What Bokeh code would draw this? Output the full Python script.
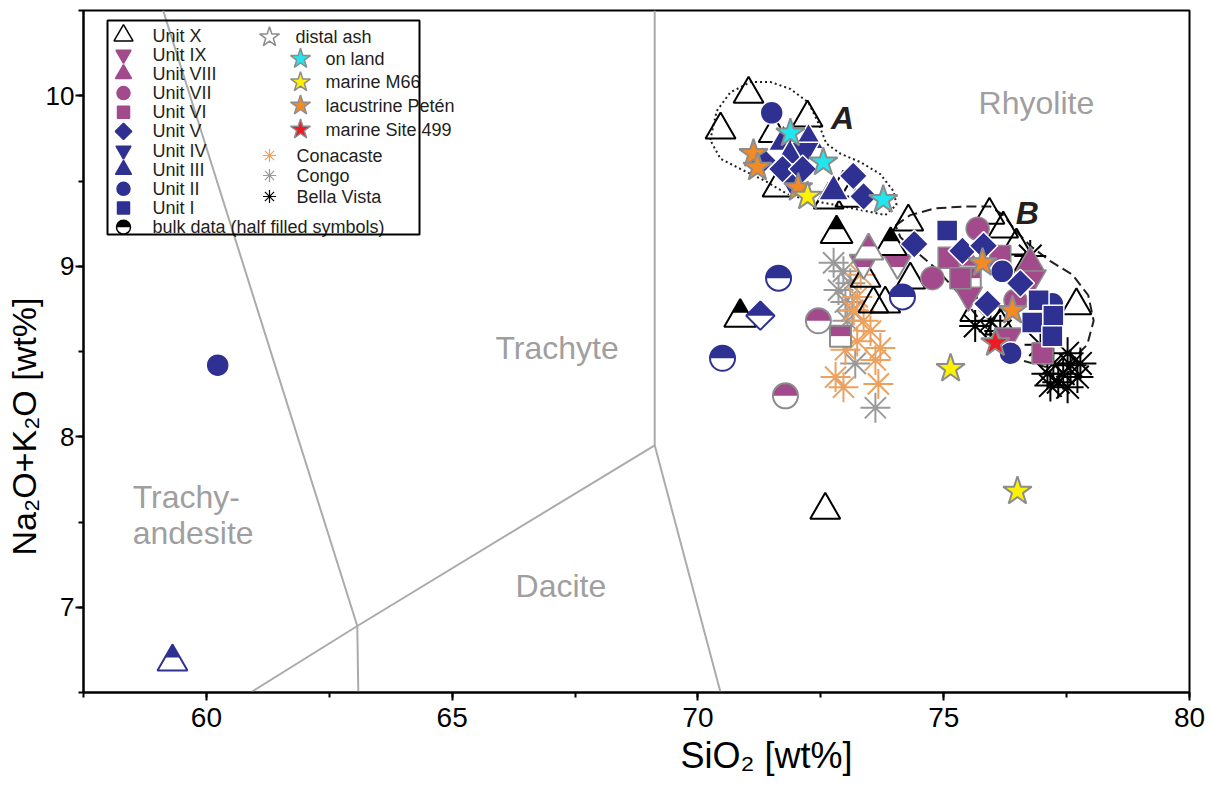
import math
from bokeh.plotting import figure
from bokeh.models import Range1d, SingleIntervalTicker, ColumnDataSource, Title
from bokeh.core.properties import value
from bokeh.embed import file_html
from bokeh.resources import INLINE

# ---------------- DATA ----------------
# TAS field boundaries (SiO2 wt%, Na2O+K2O wt%)
tas_a_x = [59.12, 63.07, 63.09]
tas_a_y = [10.50, 6.89, 6.50]
tas_b_x = [60.90, 63.07, 69.12, 70.46]
tas_b_y = [6.50, 6.89, 7.95, 6.50]
tas_c_x = [69.12, 69.12]
tas_c_y = [7.95, 10.50]

field_names = ["Rhyolite", "Trachyte", "Trachy-", "andesite", "Dacite"]
field_x = [75.71, 65.88, 58.50, 58.50, 66.29]
field_y = [9.955, 8.523, 7.644, 7.438, 7.122]

group_names = ["A", "B"]
group_x = [72.94, 76.70]
group_y = [9.867, 9.315]

contour_a_x = [70.25, 70.38, 70.66, 71.07, 71.48, 71.88, 72.25, 72.45, 72.61, 72.90, 73.31, 73.71,
               73.98, 74.04, 73.81, 73.31, 72.80, 72.19, 71.78, 71.37, 70.87, 70.46, 70.25]
contour_a_y = [9.74, 9.91, 10.02, 10.08, 10.08, 10.04, 9.96, 9.84, 9.72, 9.66, 9.61, 9.54,
               9.44, 9.36, 9.30, 9.33, 9.36, 9.39, 9.43, 9.50, 9.57, 9.63, 9.74]
contour_b_x = [74.02, 74.32, 74.83, 75.44, 75.95, 76.21, 76.46, 76.76, 77.17, 77.62, 77.94, 78.05,
               77.92, 77.58, 77.07, 76.56, 76.15, 75.75, 75.34, 74.83, 74.42, 74.12, 74.02]
contour_b_y = [9.24, 9.30, 9.34, 9.35, 9.35, 9.30, 9.21, 9.12, 9.03, 8.95, 8.83, 8.68,
               8.54, 8.44, 8.41, 8.45, 8.54, 8.68, 8.83, 8.99, 9.09, 9.17, 9.24]

# glass data
unit_x_sio2 = [71.03, 70.46, 72.23, 71.54, 72.96, 72.66, 71.62, 73.10, 72.59, 74.28, 75.93,
               76.21, 76.48, 77.70, 74.32, 73.57, 73.81, 73.41, 75.64, 76.15, 76.66]
unit_x_alk = [10.01, 9.80, 9.87, 9.78, 9.46, 9.39, 9.46, 9.40, 7.57, 9.26, 9.30,
              9.22, 9.12, 8.77, 8.92, 8.78, 8.78, 8.93, 8.73, 8.65, 8.98]
unit_ix_sio2 = [76.80, 76.32, 75.50]
unit_ix_alk = [8.93, 8.59, 8.83]
unit_viii_sio2 = [76.76, 75.44]
unit_viii_alk = [9.02, 9.05]
unit_vii_sio2 = [74.77, 75.69, 76.46]
unit_vii_alk = [8.93, 9.22, 8.80]
unit_vi_sio2 = [77.01, 75.10, 75.34, 76.15]
unit_vi_alk = [8.49, 9.05, 8.93, 9.06]
unit_v_sio2 = [71.31, 71.72, 72.13, 73.16, 73.37, 74.40, 75.38, 75.81, 76.56, 75.89]
unit_v_alk = [9.62, 9.57, 9.57, 9.53, 9.41, 9.13, 9.09, 9.12, 8.90, 8.78]
unit_iv_sio2 = [72.19, 71.88]
unit_iv_alk = [9.68, 9.51]
unit_iii_sio2 = [71.74, 72.25, 71.88, 72.76]
unit_iii_alk = [9.73, 9.74, 9.65, 9.44]
unit_ii_sio2 = [60.23, 71.50, 76.19, 76.36, 77.21]
unit_ii_alk = [8.42, 9.90, 8.97, 8.49, 8.78]
unit_i_sio2 = [75.07, 76.93, 76.80, 77.23, 77.21]
unit_i_alk = [9.21, 8.80, 8.67, 8.71, 8.59]

# bulk data (half filled symbols)
bulk_x_sio2 = [70.86, 72.82, 73.92]
bulk_x_alk = [8.70, 9.19, 9.12]
bulk_ix_sio2 = [73.37, 74.06]
bulk_ix_alk = [9.02, 9.02]
bulk_viii_sio2 = [73.47]
bulk_viii_alk = [9.09]
bulk_vii_sio2 = [71.78, 72.45]
bulk_vii_alk = [8.24, 8.68]
bulk_vi_sio2 = [72.90, 75.54]
bulk_vi_alk = [8.59, 8.93]
bulk_v_sio2 = [71.27]
bulk_v_alk = [8.71]
bulk_iii_sio2 = [59.31]
bulk_iii_alk = [6.68]
bulk_ii_sio2 = [71.64, 70.50, 74.16]
bulk_ii_alk = [8.93, 8.46, 8.82]

# distal ash
onland_sio2 = [71.88, 72.55, 73.77]
onland_alk = [9.78, 9.61, 9.39]
m66_sio2 = [72.23, 75.14, 76.50]
m66_alk = [9.41, 8.40, 7.68]
peten_sio2 = [71.13, 71.21, 72.04, 75.79, 76.40]
peten_alk = [9.66, 9.58, 9.46, 9.02, 8.74]
site499_sio2 = [76.05]
site499_alk = [8.55]

# reference volcanics
conacaste_sio2 = [73.24, 73.37, 73.24, 73.71, 72.80, 73.61, 73.67, 72.96, 73.51, 73.17, 73.00, 73.31]
conacaste_alk = [8.82, 8.68, 8.56, 8.52, 8.35, 8.45, 8.31, 8.29, 8.62, 8.74, 8.51, 8.95]
congo_sio2 = [72.76, 72.96, 72.86, 73.00, 73.14, 73.04, 73.20, 73.61, 73.10]
congo_alk = [9.02, 8.97, 8.86, 8.79, 8.74, 8.68, 8.43, 8.17, 8.90]
bella_sio2 = [77.43, 77.11, 77.78, 77.52, 77.23, 77.52, 77.72, 77.33, 77.58, 77.17,
              75.95, 75.64, 76.76, 76.15, 76.97]
bella_alk = [8.37, 8.37, 8.43, 8.49, 8.43, 8.29, 8.35, 8.32, 8.42, 8.30,
             8.68, 8.65, 9.06, 8.62, 8.54]

unit_labels = ["Unit X", "Unit IX", "Unit VIII", "Unit VII", "Unit VI",
               "Unit V", "Unit IV", "Unit III", "Unit II", "Unit I"]
bulk_label = "bulk data (half filled symbols)"
ash_labels = ["on land", "marine M66", "lacustrine Petén", "marine Site 499"]
ref_labels = ["Conacaste", "Congo", "Bella Vista"]
x_title = "SiO₂ [wt%]"
y_title = "Na₂O+K₂O [wt%]"

# ---------------- STYLE ----------------
BLUE = "#2e3192"
PURPLE = "#a24a8c"
GREY_EDGE = "#8c8c8c"
TAS_GREY = "#ababab"
FIELD_GREY = "#9f9f9f"
INK = "#231f20"
CYAN, YELLOW, ORANGE, RED = "#22e6ee", "#fff200", "#f38a24", "#ed1c24"
CONA, CONGO, BELLA = "#eda15f", "#9a9a9a", "#000000"
FONT = "Liberation Sans"

X0, X1, Y0, Y1 = 57.5, 80.0, 6.5, 10.5
FW, FH = 1106, 682
SX = FW / (X1 - X0)
SY = FH / (Y1 - Y0)
RT3 = math.sqrt(3)

p = figure(frame_width=FW, frame_height=FH,
           x_range=Range1d(X0, X1), y_range=Range1d(Y0, Y1),
           output_backend="svg", toolbar_location=None,
           min_border_left=83, min_border_right=21, min_border_top=10, min_border_bottom=88,
           background_fill_color="white", border_fill_color="white")
p.extra_x_ranges = {"lx": Range1d(0, FW)}
p.extra_y_ranges = {"ly": Range1d(FH, 0)}

p.xgrid.visible = False
p.ygrid.visible = False
p.outline_line_color = "black"
p.outline_line_width = 2

p.xaxis.ticker = SingleIntervalTicker(interval=5, num_minor_ticks=2)
p.yaxis.ticker = SingleIntervalTicker(interval=1, num_minor_ticks=2)
for ax in (p.xaxis, p.yaxis):
    ax.axis_line_width = 2
    ax.axis_line_color = "black"
    ax.major_tick_in = 0
    ax.minor_tick_in = 0
    ax.major_tick_out = 8
    ax.minor_tick_out = 5
    ax.major_tick_line_width = 2
    ax.minor_tick_line_width = 2
    ax.major_label_text_font = FONT
    ax.major_label_text_color = "black"
p.xaxis.major_label_text_font_size = "28px"
p.yaxis.major_label_text_font_size = "26px"
p.xaxis.major_label_standoff = 7
p.yaxis.major_label_standoff = 1

# axis titles (the original x title sits right of centre)
p.add_layout(Title(text=x_title, align="left", offset=597, text_font=FONT,
                   text_font_size="36px", text_font_style="normal", text_color="black",
                   standoff=6), "below")
p.add_layout(Title(text=y_title, align="left", offset=137, text_font=FONT,
                   text_font_size="34px", text_font_style="normal", text_color="black",
                   standoff=0), "left")

# TAS lines
for lx_, ly_ in ((tas_a_x, tas_a_y), (tas_b_x, tas_b_y), (tas_c_x, tas_c_y)):
    p.line(lx_, ly_, line_color=TAS_GREY, line_width=2)

p.text(field_x, field_y, text=field_names, text_font=value(FONT),
       text_font_size="32px", text_color=FIELD_GREY, text_baseline="middle", text_align="left")

# contours
p.line(contour_a_x, contour_a_y, line_color=INK, line_width=2, line_dash="2 3")
p.line(contour_b_x, contour_b_y, line_color=INK, line_width=2, line_dash="10 5")
p.text(group_x, group_y, text=group_names, text_font=value(FONT),
       text_font_size="32px", text_font_style="bold italic", text_color=INK,
       text_baseline="middle", text_align="center")

# reference asterisks
p.scatter(congo_sio2, congo_alk, marker="asterisk", size=30, line_color=CONGO, line_width=2)
p.scatter(conacaste_sio2, conacaste_alk, marker="asterisk", size=30, line_color=CONA, line_width=2)
p.scatter(bella_sio2, bella_alk, marker="asterisk", size=32, line_color=BELLA, line_width=2)

# Unit X open triangles
p.scatter(unit_x_sio2, unit_x_alk, marker="triangle", size=30, fill_color=None,
          line_color="black", line_width=2)


def half_top(kind, xs, ys, size):
    r = size / 2.0
    a = r * RT3 / 3.0
    if kind == "triangle":
        pts = [(-r / 2, 0.5 * a), (r / 2, 0.5 * a), (0, 2 * a)]
    elif kind == "inverted_triangle":
        pts = [(-r, a), (r, a), (r / 2, -0.5 * a), (-r / 2, -0.5 * a)]
    elif kind == "square":
        pts = [(-r, 0), (r, 0), (r, r), (-r, r)]
    else:  # diamond = square rotated 45 deg
        d = size / math.sqrt(2)
        pts = [(-d, 0), (d, 0), (0, d)]
    hx = [[x + dx / SX for dx, _ in pts] for x in xs]
    hy = [[y + dy / SY for _, dy in pts] for y in ys]
    return hx, hy


def draw_half(kind, xs, ys, size, fill, edge):
    marker = "square" if kind == "diamond" else kind
    ang = math.pi / 4 if kind == "diamond" else 0.0
    p.scatter(xs, ys, marker=marker, angle=ang, size=size, fill_color="white", line_color=None)
    if kind == "circle":
        p.wedge(xs, ys, radius=size / 2.0, radius_units="screen", start_angle=0,
                end_angle=math.pi, fill_color=fill, line_color=None)
    else:
        hx, hy = half_top(kind, xs, ys, size)
        p.patches(hx, hy, fill_color=fill, line_color=None)
    p.scatter(xs, ys, marker=marker, angle=ang, size=size, fill_color=None,
              line_color=edge, line_width=2)


draw_half("inverted_triangle", bulk_ix_sio2, bulk_ix_alk, 28, PURPLE, GREY_EDGE)
draw_half("triangle", bulk_x_sio2, bulk_x_alk, 32, "black", "black")
draw_half("triangle", bulk_viii_sio2, bulk_viii_alk, 30, PURPLE, GREY_EDGE)
draw_half("circle", bulk_vii_sio2, bulk_vii_alk, 25, PURPLE, GREY_EDGE)
draw_half("square", bulk_vi_sio2, bulk_vi_alk, 21, PURPLE, GREY_EDGE)
draw_half("diamond", bulk_v_sio2, bulk_v_alk, 20, BLUE, BLUE)
draw_half("triangle", bulk_iii_sio2, bulk_iii_alk, 30, BLUE, BLUE)
draw_half("circle", bulk_ii_sio2, bulk_ii_alk, 25, BLUE, BLUE)

# glass units
p.scatter(unit_ix_sio2, unit_ix_alk, marker="inverted_triangle", size=28, fill_color=PURPLE,
          line_color=GREY_EDGE, line_width=1.5)
p.scatter(unit_viii_sio2, unit_viii_alk, marker="triangle", size=28, fill_color=PURPLE,
          line_color=GREY_EDGE, line_width=1.5)
p.scatter(unit_vii_sio2, unit_vii_alk, marker="circle", size=23, fill_color=PURPLE,
          line_color=GREY_EDGE, line_width=1.5)
p.scatter(unit_vi_sio2, unit_vi_alk, marker="square", size=21, fill_color=PURPLE,
          line_color=GREY_EDGE, line_width=1.5)
p.scatter(unit_iii_sio2, unit_iii_alk, marker="triangle", size=30, fill_color=BLUE,
          line_color="white", line_width=1.5)
p.scatter(unit_iv_sio2, unit_iv_alk, marker="inverted_triangle", size=28, fill_color=BLUE,
          line_color="white", line_width=1.5)
p.scatter(unit_ii_sio2, unit_ii_alk, marker="circle", size=23, fill_color=BLUE,
          line_color="white", line_width=1.5)
p.scatter(unit_i_sio2, unit_i_alk, marker="square", size=21, fill_color=BLUE,
          line_color="white", line_width=1.5)
p.scatter(unit_v_sio2, unit_v_alk, marker="square", angle=math.pi / 4, size=20, fill_color=BLUE,
          line_color="white", line_width=1.5)

# distal ash stars
for xs, ys, col in ((peten_sio2, peten_alk, ORANGE), (onland_sio2, onland_alk, CYAN),
                    (m66_sio2, m66_alk, YELLOW), (site499_sio2, site499_alk, RED)):
    p.scatter(xs, ys, marker="star", size=30, fill_color=col, line_color=GREY_EDGE, line_width=2)

# ---------------- LEGEND (drawn in frame pixel space) ----------------
LEG = dict(x_range_name="lx", y_range_name="ly")
TXT = dict(text_font=value(FONT), text_font_size="18px", text_color=INK,
           text_baseline="middle", text_align="left")
row_y = [25 + i * 19.17 for i in range(len(unit_labels) + 1)]
mark_x, text_x = 40, 69

leg_src = ColumnDataSource(dict(
    x=[mark_x] * len(unit_labels), y=row_y[:len(unit_labels)],
    marker=["triangle", "inverted_triangle", "triangle", "circle", "square",
            "square", "inverted_triangle", "triangle", "circle", "square"],
    angle=[0, 0, 0, 0, 0, math.pi / 4, 0, 0, 0, 0],
    fill=["white", PURPLE, PURPLE, PURPLE, PURPLE, BLUE, BLUE, BLUE, BLUE, BLUE],
    edge=["black", PURPLE, PURPLE, PURPLE, PURPLE, BLUE, BLUE, BLUE, BLUE, BLUE],
    size=[19, 15, 16, 13, 12, 11.5, 15, 16, 13, 12],
))
p.scatter("x", "y", source=leg_src, marker="marker", angle="angle", size="size",
          fill_color="fill", line_color="edge", line_width=1.5, **LEG)
p.text([text_x] * len(unit_labels), row_y[:len(unit_labels)], text=unit_labels, **TXT, **LEG)

# bulk legend symbol
by = [row_y[-1]]
p.scatter([mark_x], by, marker="circle", size=14, fill_color="white", line_color=None, **LEG)
p.wedge([mark_x], by, radius=7, radius_units="screen", start_angle=0, end_angle=math.pi,
        fill_color="black", line_color=None, **LEG)
p.scatter([mark_x], by, marker="circle", size=14, fill_color=None, line_color="black",
          line_width=1.5, **LEG)
p.text([text_x], by, text=[bulk_label], **TXT, **LEG)

# right column
p.scatter([186], [26.7], marker="star", size=21, fill_color="white", line_color=GREY_EDGE,
          line_width=1.5, **LEG)
p.text([212], [26.7], text=["distal ash"], **TXT, **LEG)
star_rows = [48.3, 71.7, 95.0, 119.0]
p.scatter([217] * 4, star_rows, marker="star", size=21,
          fill_color=[CYAN, YELLOW, ORANGE, RED], line_color=GREY_EDGE, line_width=1.5, **LEG)
p.text([242] * 4, star_rows, text=ash_labels, **TXT, **LEG)
ast_rows = [145.0, 165.0, 186.0]
p.scatter([186] * 3, ast_rows, marker="asterisk", size=13, line_color=[CONA, CONGO, BELLA],
          line_width=1.2, **LEG)
p.text([213] * 3, ast_rows, text=ref_labels, **TXT, **LEG)

p.quad(left=[24], right=[336], top=[10], bottom=[224], fill_color=None,
       line_color="black", line_width=2, **LEG)

open("out.html", "w").write(file_html(p, INLINE))
